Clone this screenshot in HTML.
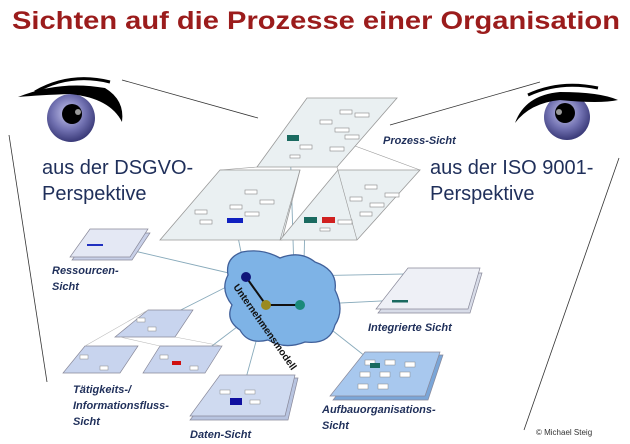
<!DOCTYPE html>
<html><head><meta charset="utf-8"><style>
html,body{margin:0;padding:0;background:#fff;width:630px;height:444px;overflow:hidden}
svg{display:block}
.l{font-family:"Liberation Sans",sans-serif;font-weight:bold;font-style:italic;font-size:11px;fill:#1f2f5a}
.p{font-family:"Liberation Sans",sans-serif;font-size:20px;fill:#1f2f5a}
</style></head><body>
<svg width="630" height="444" viewBox="0 0 630 444" xmlns="http://www.w3.org/2000/svg">
<defs>
<radialGradient id="ir" cx="0.45" cy="0.4" r="0.6"><stop offset="0" stop-color="#c8c8ee"/><stop offset="0.6" stop-color="#7070b0"/><stop offset="1" stop-color="#3a3a78"/></radialGradient>
</defs>
<text x="12" y="29" textLength="608" lengthAdjust="spacingAndGlyphs" font-family="Liberation Sans, sans-serif" font-weight="bold" font-size="25" fill="#9b1c1c">Sichten auf die Prozesse einer Organisation</text>

<g stroke="#333" stroke-width="0.8" fill="none">
<line x1="122" y1="80" x2="258" y2="118"/>
<line x1="9" y1="135" x2="47" y2="382"/>
<line x1="390" y1="125" x2="540" y2="82"/>
<line x1="619" y1="158" x2="524" y2="430"/>
</g>

<g>
<circle cx="71" cy="118" r="24" fill="url(#ir)"/>
<circle cx="72" cy="114" r="10" fill="#000"/>
<circle cx="78" cy="112" r="3" fill="#999"/>
<path d="M18,97 Q60,80 105,88 Q125,100 122,122 Q110,98 70,94 Q40,95 18,97Z" fill="#000"/>
<path d="M35,92 Q70,72 110,82" stroke="#000" stroke-width="3" fill="none"/>
<circle cx="567" cy="117" r="23" fill="url(#ir)"/>
<circle cx="565" cy="113" r="10" fill="#000"/>
<circle cx="559" cy="112" r="3" fill="#999"/>
<path d="M515,123 Q525,95 560,92 Q600,92 618,100 Q600,104 560,100 Q530,103 515,123Z" fill="#000"/>
<path d="M528,95 Q560,80 598,88" stroke="#000" stroke-width="3" fill="none"/>
</g>

<text class="p" x="42" y="174">aus der DSGVO-</text>
<text class="p" x="42" y="200">Perspektive</text>
<text class="p" x="430" y="174">aus der ISO 9001-</text>
<text class="p" x="430" y="200">Perspektive</text>

<g stroke="#8ab" stroke-width="0.9" fill="none">
<line x1="246" y1="277" x2="235" y2="222"/>
<line x1="295" y1="305" x2="290" y2="140"/>
<line x1="303" y1="305" x2="305" y2="220"/>
<line x1="246" y1="277" x2="130" y2="250"/>
<line x1="246" y1="277" x2="460" y2="273"/>
<line x1="300" y1="305" x2="400" y2="300"/>
<line x1="246" y1="277" x2="165" y2="318"/>
<line x1="266" y1="305" x2="240" y2="400"/>
<line x1="300" y1="305" x2="370" y2="360"/>
<line x1="266" y1="305" x2="200" y2="355"/>
</g>

<g stroke="#999" stroke-width="0.8" fill="#eaf0f2">
<polygon points="307,98 397,98 337,167 257,167"/>
<polygon points="220,170 300,170 282,240 160,240"/>
<polygon points="338,170 420,170 357,240 280,240"/>
</g>
<g stroke="#999" stroke-width="0.6" fill="none">
<line x1="257" y1="167" x2="220" y2="170"/><line x1="355" y1="146" x2="420" y2="170"/>
<line x1="337" y1="167" x2="357" y2="240"/><line x1="300" y1="170" x2="280" y2="240"/>
</g>
<g fill="#fff" stroke="#888" stroke-width="0.6">
<rect x="340" y="110" width="12" height="4"/><rect x="355" y="113" width="14" height="4"/><rect x="320" y="120" width="12" height="4"/><rect x="335" y="128" width="14" height="4"/><rect x="345" y="135" width="14" height="4"/><rect x="300" y="145" width="12" height="4"/><rect x="330" y="147" width="14" height="4"/><rect x="290" y="155" width="10" height="3"/>
<rect x="245" y="190" width="12" height="4"/><rect x="260" y="200" width="14" height="4"/><rect x="230" y="205" width="12" height="4"/><rect x="245" y="212" width="14" height="4"/><rect x="195" y="210" width="12" height="4"/><rect x="200" y="220" width="12" height="4"/>
<rect x="365" y="185" width="12" height="4"/><rect x="385" y="193" width="14" height="4"/><rect x="350" y="197" width="12" height="4"/><rect x="370" y="203" width="14" height="4"/><rect x="360" y="212" width="12" height="4"/><rect x="338" y="220" width="14" height="4"/><rect x="320" y="228" width="10" height="3"/>
</g>
<rect x="287" y="135" width="12" height="6" fill="#1a6a60"/>
<rect x="227" y="218" width="16" height="5" fill="#1020c0"/>
<rect x="304" y="217" width="13" height="6" fill="#1a6a60"/>
<rect x="322" y="217" width="13" height="6" fill="#d02020"/>

<path d="M242,252 Q262,248 280,258 Q300,250 315,262 Q338,270 335,290 Q345,310 335,325 Q330,345 305,342 Q285,350 268,340 Q248,345 240,330 Q225,320 232,305 Q220,290 228,275 Q225,258 242,252Z" fill="#7eb3e6" stroke="#40609a" stroke-width="1.3"/>
<polyline points="246,277 266,305 300,305" stroke="#111" stroke-width="2" fill="none"/>
<circle cx="246" cy="277" r="5" fill="#10157a"/>
<circle cx="266" cy="305" r="5" fill="#9a8a20"/>
<circle cx="300" cy="305" r="5" fill="#1a8a7a"/>
<text x="0" y="0" transform="translate(233,287) rotate(55)" font-family="Liberation Sans,sans-serif" font-weight="bold" font-size="10" fill="#111">Unternehmensmodell</text>

<g stroke="#889" stroke-width="0.7">
<polygon points="92,233 150,233 132,260 72,260" fill="#c8d0e8"/>
<polygon points="90,229 148,229 130,257 70,257" fill="#e4e8f4"/>
<rect x="87" y="244" width="16" height="2" fill="#2030c0" stroke="none"/>
<polygon points="410,273 482,273 470,313 378,313" fill="#d8dce8"/>
<polygon points="408,268 480,268 468,309 376,309" fill="#eef0f6"/>
<rect x="392" y="300" width="16" height="2.5" fill="#1a6a60" stroke="none"/>
<polygon points="368,355 443,355 428,400 333,400" fill="#7aa6d8"/>
<polygon points="365,352 440,352 425,396 330,396" fill="#a8c8ee"/>
<polygon points="222,378 298,378 288,420 190,420" fill="#b8c4e0"/>
<polygon points="220,375 295,375 285,416 190,416" fill="#cfdaf0"/>
<polygon points="148,310 193,310 175,337 115,337" fill="#c8d4ee"/>
<polygon points="85,346 138,346 120,373 63,373" fill="#c8d4ee"/>
<polygon points="160,346 222,346 205,373 143,373" fill="#c8d4ee"/>
</g>
<g stroke="#bbb" stroke-width="0.6">
<line x1="148" y1="310" x2="85" y2="346"/><line x1="175" y1="337" x2="222" y2="346"/><line x1="120" y1="337" x2="160" y2="346"/>
</g>
<g fill="#fff" stroke="#888" stroke-width="0.5">
<rect x="365" y="360" width="10" height="5"/><rect x="385" y="360" width="10" height="5"/><rect x="405" y="362" width="10" height="5"/><rect x="360" y="372" width="10" height="5"/><rect x="380" y="372" width="10" height="5"/><rect x="400" y="372" width="10" height="5"/><rect x="358" y="384" width="10" height="5"/><rect x="378" y="384" width="10" height="5"/>
<rect x="220" y="390" width="10" height="4"/><rect x="245" y="390" width="10" height="4"/><rect x="250" y="400" width="10" height="4"/>
<rect x="137" y="318" width="8" height="4"/><rect x="148" y="327" width="8" height="4"/><rect x="80" y="355" width="8" height="4"/><rect x="100" y="366" width="8" height="4"/><rect x="160" y="355" width="8" height="4"/><rect x="190" y="366" width="8" height="4"/>
</g>
<rect x="370" y="363" width="10" height="5" fill="#1a6a60"/>
<rect x="230" y="398" width="12" height="7" fill="#1010a0"/>
<rect x="172" y="361" width="9" height="4" fill="#d01010"/>

<text class="l" x="383" y="144">Prozess-Sicht</text>
<text class="l" x="52" y="274">Ressourcen-</text>
<text class="l" x="52" y="290">Sicht</text>
<text class="l" x="368" y="331">Integrierte Sicht</text>
<text class="l" x="73" y="393">Tätigkeits-/</text>
<text class="l" x="73" y="409">Informationsfluss-</text>
<text class="l" x="73" y="425">Sicht</text>
<text class="l" x="190" y="438">Daten-Sicht</text>
<text class="l" x="322" y="413">Aufbauorganisations-</text>
<text class="l" x="322" y="429">Sicht</text>
<text x="536" y="435" font-family="Liberation Sans,sans-serif" font-size="8" fill="#333">© Michael Steig</text>
</svg>
</body></html>
